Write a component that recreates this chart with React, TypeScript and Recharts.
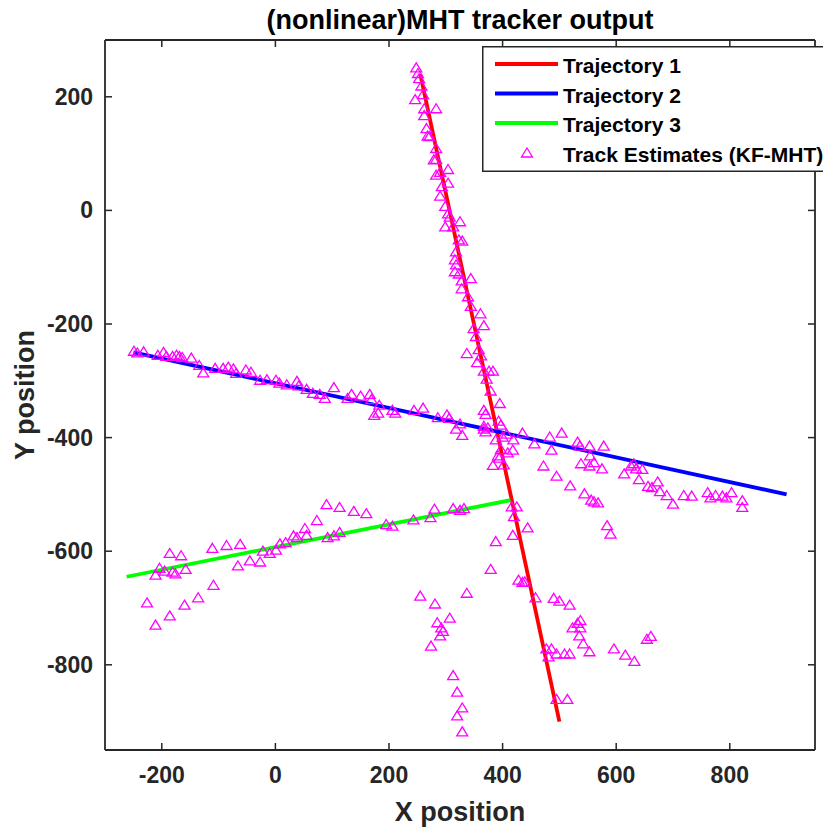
import { ScatterChart, Scatter, XAxis, YAxis, Legend } from 'recharts'

const xTicks = [-200, 0, 200, 400, 600, 800]
const yTicks = [-800, -600, -400, -200, 0, 200]

const traj1: [number, number][] = [[255, 240], [500, -900]]
const traj2: [number, number][] = [[-250, -250], [900, -500]]
const traj3: [number, number][] = [[-262, -645], [414, -510]]

// track estimates, grouped roughly by where they sit
const estNearTraj1: [number, number][] = [
  [248, 251], [251, 241], [253, 232], [246, 195], [257, 219], [260, 204], [283, 179], [262, 179],
  [262, 167], [266, 144], [271, 130], [268, 131], [283, 109], [279, 89], [283, 90], [283, 62],
  [290, 67], [293, 42], [290, 25], [304, 72], [304, 48], [299, 7], [304, -6], [307, -12],
  [299, -29], [313, -29], [325, -20], [329, -54], [323, -52], [318, -73], [316, -87], [318, -96],
  [316, -108], [323, -112], [328, -124], [344, -120], [328, -138], [339, -152], [344, -169], [361, -182],
  [349, -208], [367, -203], [353, -222], [337, -252], [358, -245], [355, -268], [362, -256], [367, -283],
  [376, -283], [383, -283], [372, -297], [379, -318], [367, -352], [370, -359], [395, -340], [370, -390],
  [367, -385], [393, -371], [397, -378], [388, -404], [400, -399], [397, -421], [418, -422], [383, -449],
  [394, -436], [402, -448], [409, -427], [392, -432], [416, -522], [425, -522], [420, -539], [418, -572],
  [444, -559], [388, -583], [379, -632], [428, -651], [439, -654], [435, -655], [458, -682], [490, -683],
  [500, -688], [481, -786], [486, -772], [495, -861], [514, -861],
]

const estLowClusters: [number, number][] = [
  [518, -695], [532, -727], [537, -722], [523, -735], [537, -735], [535, -749], [542, -763], [553, -777],
  [477, -772], [495, -781], [509, -781], [518, -781], [596, -772], [616, -783], [632, -794], [654, -755],
  [661, -750], [255, -679], [281, -693], [285, -726], [292, -735], [295, -741], [290, -749], [274, -767],
  [307, -718], [337, -674], [313, -819], [320, -848], [329, -876], [320, -890], [329, -918],
]

const estNearTraj2: [number, number][] = [
  [-249, -248], [-243, -251], [-232, -249], [-207, -255], [-197, -250], [-192, -257], [-181, -257], [-174, -255],
  [-169, -257], [-164, -259], [-148, -260], [-134, -273], [-127, -286], [-106, -278], [-92, -278], [-83, -276],
  [-74, -279], [-69, -287], [-52, -281], [-43, -285], [-27, -299], [-15, -298], [1, -299], [7, -304],
  [20, -307], [38, -301], [41, -309], [55, -315], [66, -322], [78, -324], [87, -331], [103, -312],
  [127, -331], [134, -324], [150, -327], [166, -324], [169, -333], [174, -361], [181, -357], [183, -343],
  [206, -352], [211, -357], [244, -352], [260, -348], [286, -365], [302, -360], [306, -366], [318, -385],
  [325, -376], [329, -396], [367, -380], [374, -383], [407, -394], [419, -404], [435, -392], [456, -411],
  [483, -399], [486, -422], [504, -392], [532, -408], [536, -415], [553, -415], [554, -432], [561, -444],
  [575, -455], [578, -415], [538, -446], [553, -450], [495, -468], [472, -450], [519, -485], [544, -499],
  [556, -510], [561, -513], [568, -515], [584, -555], [590, -570], [614, -464], [626, -450], [631, -446],
  [635, -455], [640, -474], [646, -456], [656, -486], [663, -488], [673, -478], [677, -495], [689, -502],
  [700, -517], [719, -502], [733, -503], [761, -497], [766, -506], [775, -502], [787, -503], [794, -506],
  [803, -497], [822, -511], [822, -523],
]

const estNearTraj3: [number, number][] = [
  [-211, -642], [-226, -691], [-211, -730], [-204, -630], [-195, -635], [-186, -604], [-181, -637], [-176, -640],
  [-166, -608], [-158, -632], [-186, -714], [-160, -695], [-136, -682], [-111, -595], [-109, -660], [-86, -590],
  [-66, -626], [-62, -588], [-45, -617], [-27, -619], [-22, -600], [-10, -604], [1, -598], [8, -587],
  [18, -585], [32, -573], [38, -576], [52, -560], [55, -572], [73, -546], [90, -518], [92, -576],
  [103, -573], [113, -523], [113, -567], [138, -530], [160, -534], [195, -553], [206, -556], [243, -545],
  [273, -541], [280, -526], [313, -525], [325, -528], [332, -525],
]

const FONT = '"Liberation Sans", Arial, Helvetica, sans-serif'
const AXIS = '#262626'
const MAGENTA = '#ff00ff'

const toPts = (arr: [number, number][]) => arr.map(([x, y]) => ({ x, y }))
const estimates = toPts([...estNearTraj1, ...estLowClusters, ...estNearTraj2, ...estNearTraj3])

const Tri = (p: any) => {
  const { cx, cy } = p
  return (
    <path
      d={`M${cx},${cy - 5}L${cx + 5.5},${cy + 4}L${cx - 5.5},${cy + 4}Z`}
      fill="none"
      stroke={MAGENTA}
      strokeWidth={1.3}
    />
  )
}

const NoShape = () => <g />

const BottomTick = (p: any) => (
  <g>
    <line x1={p.x} y1={p.y} x2={p.x} y2={p.y - 7} stroke={AXIS} strokeWidth={1.5} />
    <text x={p.x} y={p.y + 33} textAnchor="middle" fontFamily={FONT} fontWeight="bold" fontSize={23} fill={AXIS}>
      {p.payload.value}
    </text>
  </g>
)

const LeftTick = (p: any) => (
  <g>
    <line x1={p.x} y1={p.y} x2={p.x + 7} y2={p.y} stroke={AXIS} strokeWidth={1.5} />
    <text x={p.x - 12} y={p.y + 8} textAnchor="end" fontFamily={FONT} fontWeight="bold" fontSize={23} fill={AXIS}>
      {p.payload.value}
    </text>
  </g>
)

const TopTick = (p: any) => <line x1={p.x} y1={p.y} x2={p.x} y2={p.y + 7} stroke={AXIS} strokeWidth={1.5} />
const RightTick = (p: any) => <line x1={p.x} y1={p.y} x2={p.x - 7} y2={p.y} stroke={AXIS} strokeWidth={1.5} />

const legendRows = [
  { name: 'Trajectory 1', color: '#ff0000' },
  { name: 'Trajectory 2', color: '#0000ff' },
  { name: 'Trajectory 3', color: '#00ff00' },
]

const LegendBox = () => (
  <svg width={349} height={126} style={{ display: 'block' }}>
    <rect x={0.75} y={0.75} width={370} height={124.5} fill="#fff" stroke={AXIS} strokeWidth={1.5} />
    {legendRows.map((r, i) => (
      <g key={r.name}>
        <line x1={13} x2={76} y1={18 + i * 29.5} y2={18 + i * 29.5} stroke={r.color} strokeWidth={4} />
        <text x={81} y={27 + i * 29.5} fontFamily={FONT} fontWeight="bold" fontSize={21} fill="#000">
          {r.name}
        </text>
      </g>
    ))}
    <Tri cx={45} cy={107} />
    <text x={81} y={116} fontFamily={FONT} fontWeight="bold" fontSize={21} fill="#000">
      Track Estimates (KF-MHT)
    </text>
  </svg>
)

export default function App() {
  return (
    <div style={{ width: 823, height: 821, overflow: 'hidden' }}>
      <ScatterChart width={823} height={821} margin={{ top: 31, right: 15, bottom: 0, left: 0 }}>
        <XAxis
          type="number"
          dataKey="x"
          domain={[-300, 950]}
          ticks={xTicks}
          interval={0}
          allowDataOverflow
          height={79}
          tickSize={0}
          tickMargin={0}
          tickLine={false}
          tick={BottomTick}
          axisLine={{ stroke: AXIS, strokeWidth: 1.8 }}
          label={() => (
            <text x={452} y={813} textAnchor="middle" fontFamily={FONT} fontWeight="bold" fontSize={27} fill={AXIS}>
              X position
            </text>
          )}
        />
        <XAxis
          xAxisId="top"
          orientation="top"
          type="number"
          dataKey="x"
          domain={[-300, 950]}
          ticks={xTicks}
          interval={0}
          allowDataOverflow
          height={1}
          tickSize={0}
          tickMargin={0}
          tickLine={false}
          tick={TopTick}
          axisLine={{ stroke: AXIS, strokeWidth: 1.8 }}
          label={() => (
            <text x={452} y={21} textAnchor="middle" fontFamily={FONT} fontWeight="bold" fontSize={27} fill="#000">
              (nonlinear)MHT tracker output
            </text>
          )}
        />
        <YAxis
          type="number"
          dataKey="y"
          domain={[-950, 300]}
          ticks={yTicks}
          interval={0}
          allowDataOverflow
          width={97}
          tickSize={0}
          tickMargin={0}
          tickLine={false}
          tick={LeftTick}
          axisLine={{ stroke: AXIS, strokeWidth: 1.8 }}
          label={() => (
            <text
              x={26}
              y={387}
              transform="rotate(-90 26 387)"
              textAnchor="middle"
              fontFamily={FONT}
              fontWeight="bold"
              fontSize={27}
              fill={AXIS}
            >
              Y position
            </text>
          )}
        />
        <YAxis
          yAxisId="right"
          orientation="right"
          type="number"
          dataKey="y"
          domain={[-950, 300]}
          ticks={yTicks}
          interval={0}
          allowDataOverflow
          width={1}
          tickSize={0}
          tickMargin={0}
          tickLine={false}
          tick={RightTick}
          axisLine={{ stroke: AXIS, strokeWidth: 1.8 }}
        />
        <Scatter
          name="Trajectory 1"
          data={toPts(traj1)}
          line={{ stroke: '#ff0000', strokeWidth: 3.8 }}
          shape={NoShape}
          isAnimationActive={false}
        />
        <Scatter
          name="Trajectory 2"
          data={toPts(traj2)}
          line={{ stroke: '#0000ff', strokeWidth: 3.8 }}
          shape={NoShape}
          isAnimationActive={false}
        />
        <Scatter
          name="Trajectory 3"
          data={toPts(traj3)}
          line={{ stroke: '#00ff00', strokeWidth: 3.8 }}
          shape={NoShape}
          isAnimationActive={false}
        />
        <Scatter name="Track Estimates (KF-MHT)" data={estimates} shape={Tri} isAnimationActive={false} />
        {/* invisible series so the top/right box axes get drawn */}
        <Scatter
          xAxisId="top"
          yAxisId="right"
          data={toPts(traj2)}
          shape={NoShape}
          legendType="none"
          isAnimationActive={false}
        />
        <Legend
          layout="vertical"
          align="center"
          verticalAlign="middle"
          content={() => <LegendBox />}
          wrapperStyle={{ position: 'absolute', left: 474, top: 38, width: 349, height: 126 }}
        />
      </ScatterChart>
    </div>
  )
}
